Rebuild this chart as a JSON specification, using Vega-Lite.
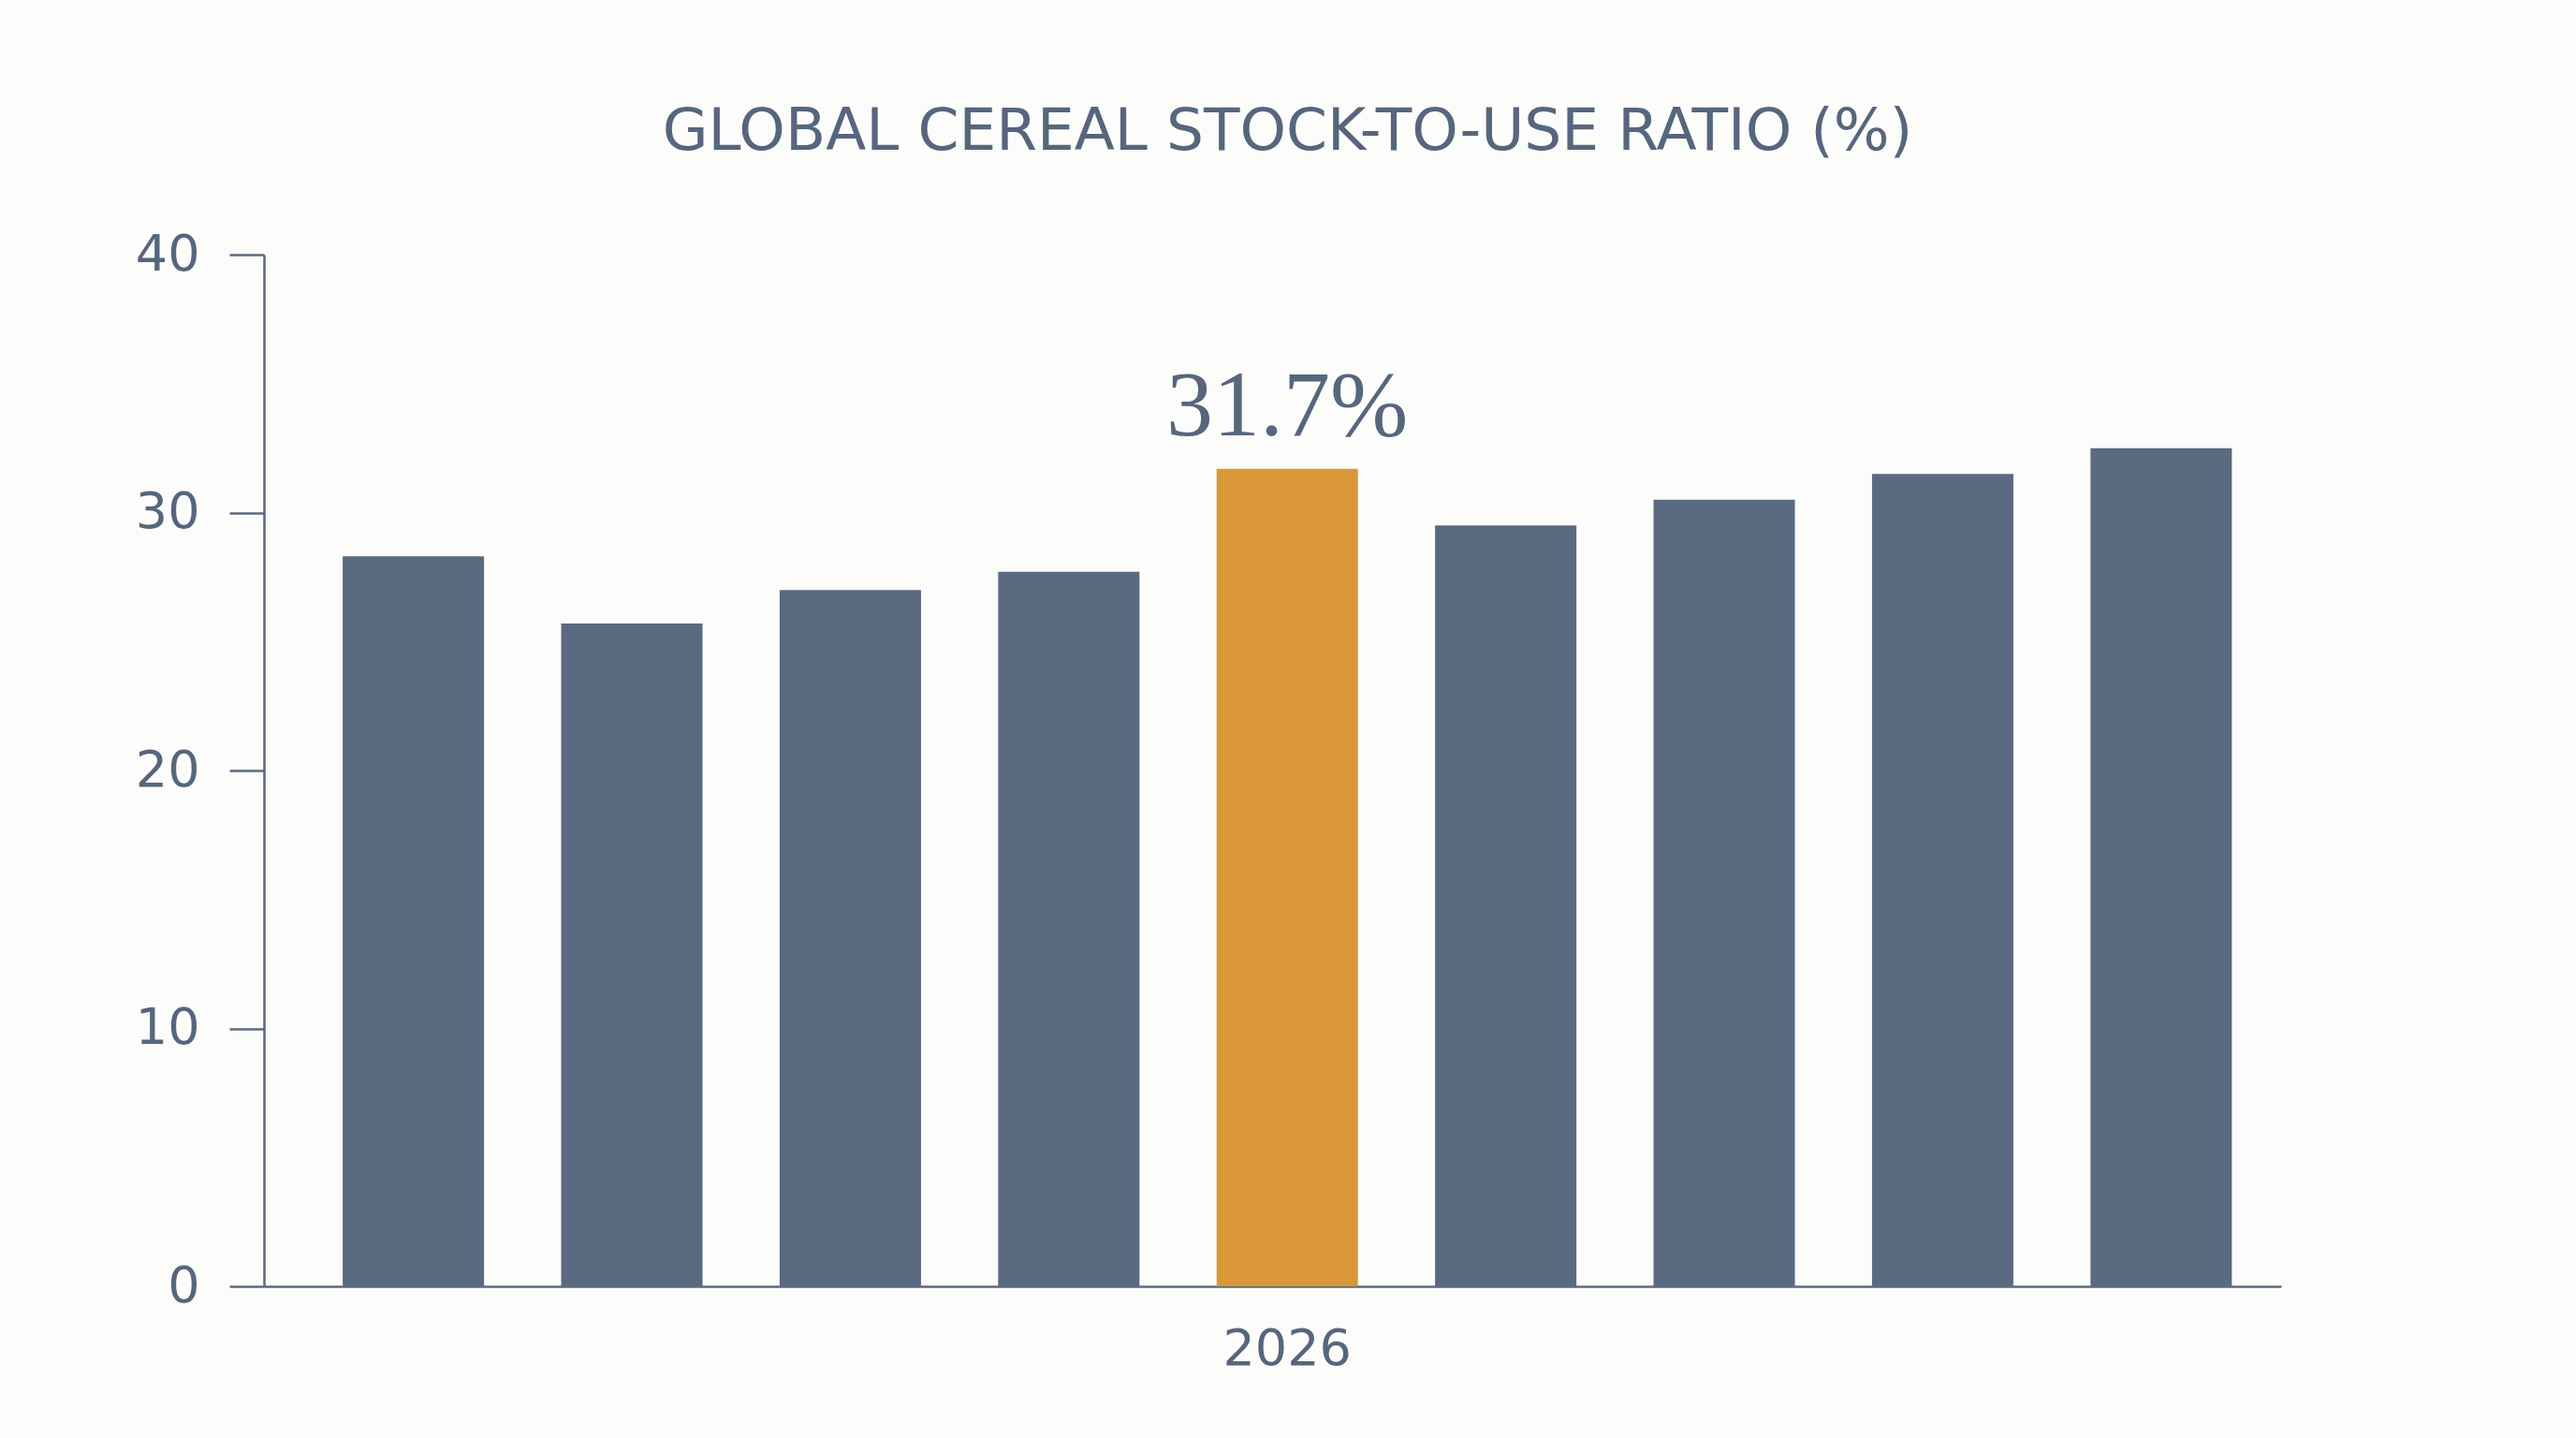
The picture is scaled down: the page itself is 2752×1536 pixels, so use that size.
{
  "$schema": "https://vega.github.io/schema/vega-lite/v6.json",
  "description": "Global cereal stock-to-use ratio, one bar per year, 2026 highlighted",
  "width": 2155,
  "height": 1102,
  "autosize": {"type": "none"},
  "padding": {"left": 282, "top": 272, "right": 315, "bottom": 162},
  "background": "#fcfcfb",
  "title": {
    "text": "GLOBAL CEREAL STOCK-TO-USE RATIO (%)",
    "font": "DejaVu Sans",
    "fontSize": 63,
    "fontWeight": "normal",
    "color": "#56667c",
    "anchor": "middle",
    "dx": 16,
    "offset": 72
  },
  "data": {
    "values": [
      {"year": "2022", "ratio": 28.3, "note": ""},
      {"year": "2023", "ratio": 25.7, "note": ""},
      {"year": "2024", "ratio": 27.0, "note": ""},
      {"year": "2025", "ratio": 27.7, "note": ""},
      {"year": "2026", "ratio": 31.7, "note": "31.7%"},
      {"year": "2027", "ratio": 29.5, "note": ""},
      {"year": "2028", "ratio": 30.5, "note": ""},
      {"year": "2029", "ratio": 31.5, "note": ""},
      {"year": "2030", "ratio": 32.5, "note": ""}
    ]
  },
  "encoding": {
    "x": {
      "field": "year",
      "type": "ordinal",
      "sort": null,
      "scale": {"paddingInner": 0.353, "paddingOuter": 0.293, "align": 0.615},
      "axis": {
        "title": null,
        "labelAngle": 0,
        "labelExpr": "datum.label == '2026' ? datum.label : ''",
        "labelFont": "DejaVu Sans",
        "labelFontSize": 54,
        "labelColor": "#56667c",
        "labelPadding": 40,
        "ticks": false,
        "domainColor": "#5b6b80",
        "domainWidth": 2.5
      }
    },
    "y": {
      "field": "ratio",
      "type": "quantitative",
      "scale": {"domain": [0, 40], "nice": false},
      "axis": {
        "title": null,
        "values": [0, 10, 20, 30, 40],
        "grid": false,
        "labelFont": "DejaVu Sans",
        "labelFontSize": 54,
        "labelColor": "#56667c",
        "labelPadding": 32,
        "tickSize": 37,
        "tickWidth": 2.5,
        "tickColor": "#5b6b80",
        "domainColor": "#5b6b80",
        "domainWidth": 2.5
      }
    }
  },
  "layer": [
    {
      "mark": {"type": "bar"},
      "encoding": {
        "color": {
          "condition": {"test": "datum.year == '2026'", "value": "#d99738"},
          "value": "#5a6a80"
        }
      }
    },
    {
      "transform": [{"filter": "datum.note != ''"}],
      "mark": {
        "type": "text",
        "font": "Liberation Serif",
        "fontSize": 100,
        "color": "#56667c",
        "baseline": "alphabetic",
        "dy": -36
      },
      "encoding": {"text": {"field": "note"}}
    }
  ],
  "config": {"view": {"stroke": null}}
}
